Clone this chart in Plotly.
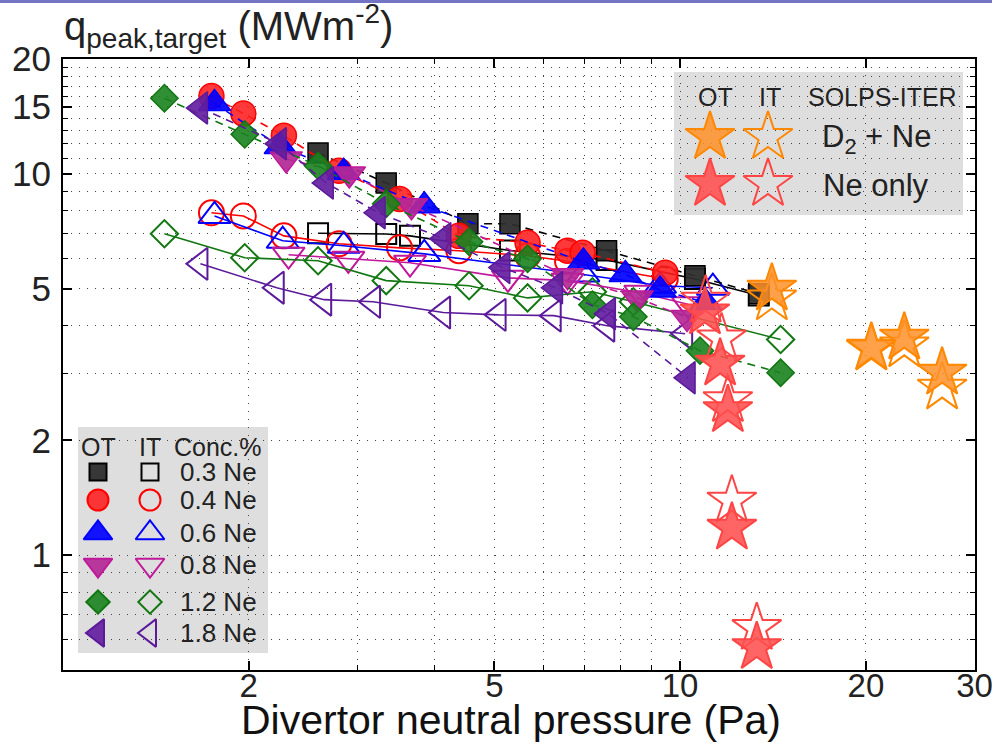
import math
import plotly.graph_objects as go

# Peak target heat flux vs divertor neutral pressure.
# OT = outer target (filled markers, dashed lines)
# IT = inner target (open markers, solid lines)

conc_labels = ["0.3 Ne", "0.4 Ne", "0.6 Ne", "0.8 Ne", "1.2 Ne", "1.8 Ne"]

p_ot_03 = [2.59, 3.34, 4.53, 5.30, 7.60, 10.57, 13.41]
q_ot_03 = [11.35, 9.47, 7.40, 7.40, 6.29, 5.41, 4.85]
p_it_03 = [2.59, 3.34, 3.65, 5.30, 7.60, 10.57, 13.41]
q_it_03 = [6.99, 6.96, 6.88, 6.30, 5.95, 5.30, 4.80]

p_ot_04 = [1.74, 1.96, 2.28, 2.80, 3.51, 4.38, 5.66, 6.57, 6.95, 9.46]
q_ot_04 = [16.0, 14.4, 12.6, 10.2, 8.60, 6.88, 6.60, 6.29, 6.21, 5.51]
p_it_04 = [1.74, 1.96, 2.28, 2.80, 3.51, 4.38, 5.66, 6.57, 9.46]
q_it_04 = [7.91, 7.76, 6.88, 6.56, 6.40, 6.29, 6.10, 5.90, 5.30]

p_ot_06 = [1.76, 2.25, 2.85, 3.85, 6.97, 8.15, 9.28, 11.0]
q_ot_06 = [15.3, 11.8, 10.1, 8.25, 5.88, 5.45, 4.96, 4.60]
p_it_06 = [1.76, 2.27, 2.85, 3.85, 6.97, 9.28, 11.3]
q_it_06 = [7.76, 6.68, 6.48, 6.17, 5.45, 5.09, 5.03]

p_ot_08 = [2.30, 2.91, 3.67, 6.57, 8.52, 10.26]
q_ot_08 = [10.95, 10.0, 8.25, 5.41, 4.73, 4.20]
p_it_08 = [2.32, 2.90, 3.65, 5.26, 6.57, 8.62, 10.3]
q_it_08 = [6.14, 5.99, 5.85, 5.34, 5.25, 4.88, 4.55]

p_ot_12 = [1.46, 1.97, 2.59, 3.34, 4.55, 5.66, 7.21, 8.40, 10.77, 14.55]
q_ot_12 = [15.8, 12.7, 10.5, 8.35, 6.64, 5.99, 4.54, 4.22, 3.44, 3.01]
p_it_12 = [1.46, 1.97, 2.59, 3.34, 4.55, 5.66, 7.21, 8.40, 14.55]
q_it_12 = [6.97, 6.03, 5.92, 5.25, 5.09, 4.73, 4.91, 4.62, 3.68]

p_ot_18 = [1.67, 2.24, 2.67, 3.24, 4.14, 5.16, 6.28, 7.65, 10.3]
q_ot_18 = [14.9, 12.0, 9.47, 7.91, 6.76, 5.68, 5.03, 4.30, 2.92]
p_it_18 = [1.67, 2.22, 2.65, 3.18, 4.13, 5.08, 6.24, 7.62, 10.19]
q_it_18 = [5.81, 5.03, 4.68, 4.62, 4.33, 4.27, 4.25, 4.00, 3.81]

# SOLPS-ITER cases
p_d2ne_ot = [14.08, 20.41, 23.08, 26.58]
q_d2ne_ot = [5.00, 3.50, 3.72, 3.01]
p_d2ne_it = [14.08, 20.41, 23.08, 26.58]
q_d2ne_it = [4.71, 3.48, 3.55, 2.75]
p_neonly_ot = [10.97, 11.61, 11.95, 12.13, 13.31]
q_neonly_ot = [4.33, 3.18, 2.40, 1.18, 0.574]
p_neonly_it = [11.00, 11.67, 11.95, 12.13, 13.31]
q_neonly_it = [4.65, 3.70, 2.55, 1.39, 0.644]

x_major = [2, 5, 10, 20, 30]
x_minor = [3, 4, 6, 7, 8, 9]
y_major = [1, 2, 5, 10, 15, 20]
y_minor = [0.6, 0.7, 0.8, 0.9, 3, 4, 6, 7, 8, 9, 11, 12, 13, 14, 16, 17, 18, 19]

ot_sets = [(p_ot_03, q_ot_03), (p_ot_04, q_ot_04), (p_ot_06, q_ot_06),
           (p_ot_08, q_ot_08), (p_ot_12, q_ot_12), (p_ot_18, q_ot_18)]
it_sets = [(p_it_03, q_it_03), (p_it_04, q_it_04), (p_it_06, q_it_06),
           (p_it_08, q_it_08), (p_it_12, q_it_12), (p_it_18, q_it_18)]

styles = [
    dict(symbol="square", size=20, lsize=17, edge="#000000", fill="rgba(45,45,45,0.95)"),
    dict(symbol="circle", size=25, lsize=21, edge="#ff0000", fill="rgba(255,30,30,0.88)"),
    dict(symbol="triangle-up", size=28, lsize=25, edge="#0000ff", fill="rgba(0,0,255,0.92)"),
    dict(symbol="triangle-down", size=28, lsize=25, edge="#c0189a", fill="rgba(180,40,150,0.92)"),
    dict(symbol="diamond", size=21, lsize=18, edge="#117711", fill="rgba(25,130,30,0.9)"),
    dict(symbol="triangle-left", size=28, lsize=24, edge="#5b1a9a", fill="rgba(100,30,160,0.92)"),
]
star_orange = dict(edge="#ff8800", fill="rgba(255,145,40,0.85)")
star_red = dict(edge="#ff4444", fill="rgba(255,80,80,0.88)")
STAR = 37

FONT = "Liberation Sans, Arial, Helvetica, sans-serif"
TXT = "#222222"

fig = go.Figure()

# inner target: open markers, solid lines
for (p, q), st, lab in zip(it_sets, styles, conc_labels):
    fig.add_trace(go.Scatter(
        x=p, y=q, mode="lines+markers", name="IT " + lab,
        line=dict(color=st["edge"], width=1.6),
        marker=dict(symbol=st["symbol"] + "-open", size=st["size"],
                    color=st["edge"], line=dict(color=st["edge"], width=2)),
    ))

# outer target: filled markers, dashed lines
for (p, q), st, lab in zip(ot_sets, styles, conc_labels):
    fig.add_trace(go.Scatter(
        x=p, y=q, mode="lines+markers", name="OT " + lab,
        line=dict(color=st["edge"], width=1.6, dash="8px,6px"),
        marker=dict(symbol=st["symbol"], size=st["size"], color=st["fill"],
                    line=dict(color=st["edge"], width=1.5)),
    ))

# SOLPS-ITER stars
for p, q, sty, filled, nm in [
    (p_d2ne_it, q_d2ne_it, star_orange, False, "D2+Ne IT"),
    (p_d2ne_ot, q_d2ne_ot, star_orange, True, "D2+Ne OT"),
    (p_neonly_it, q_neonly_it, star_red, False, "Ne only IT"),
    (p_neonly_ot, q_neonly_ot, star_red, True, "Ne only OT"),
]:
    fig.add_trace(go.Scatter(
        x=p, y=q, mode="markers", name=nm,
        marker=dict(symbol="star" if filled else "star-open", size=STAR,
                    color=sty["fill"] if filled else sty["edge"],
                    line=dict(color=sty["edge"], width=2)),
    ))

# ---- layout helpers: canvas pixel -> plot-area fraction
W_FIG, H_FIG = 992, 743
X0, PW = 63, 912
Y0, PH = 59, 611


def fx(px):
    return (px - X0) / PW


def fy(py):
    return (Y0 + PH - py) / PH


# ---- key boxes (overlay axis in plot-area fractions)
def key_marker(x, y, symbol, size, color, edge):
    fig.add_trace(go.Scatter(
        x=[x], y=[y], xaxis="x2", yaxis="y2", mode="markers", showlegend=False,
        hoverinfo="skip",
        marker=dict(symbol=symbol, size=size, color=color, line=dict(color=edge, width=2)),
    ))


shapes = [
    dict(type="rect", xref="x domain", yref="y domain", layer="below",
         x0=fx(78), x1=fx(268), y0=fy(653), y1=fy(427),
         fillcolor="#dedede", line=dict(width=0)),
    dict(type="rect", xref="x domain", yref="y domain", layer="below",
         x0=fx(674), x1=fx(963), y0=fy(215), y1=fy(72),
         fillcolor="#dedede", line=dict(width=0)),
    dict(type="rect", xref="paper", yref="paper",
         x0=fx(0), x1=fx(W_FIG), y0=fy(3), y1=fy(0),
         fillcolor="#7474c4", line=dict(width=0)),
]

annotations = []


def text(x, y, s, size, anchor="center"):
    annotations.append(dict(x=x, y=y, xref="paper", yref="paper", text=s, showarrow=False,
                            xanchor=anchor, yanchor="middle",
                            font=dict(family=FONT, size=size, color=TXT)))


row_y = [472, 500, 533, 565, 602, 633]
text(fx(98), fy(447), "OT", 25)
text(fx(150), fy(447), "IT", 25)
text(fx(218), fy(447), "Conc.%", 25)
for st, lab, ry in zip(styles, conc_labels, row_y):
    key_marker(fx(98), fy(ry), st["symbol"], st["lsize"], st["fill"], st["edge"])
    key_marker(fx(150), fy(ry), st["symbol"] + "-open", st["lsize"], st["edge"], st["edge"])
    text(fx(218), fy(ry), lab, 26)

text(fx(715), fy(97), "OT", 25)
text(fx(770), fy(97), "IT", 25)
text(fx(882), fy(97), "SOLPS-ITER", 25)
for sty, ry, lab in [(star_orange, 137, "D<sub>2</sub> + Ne"), (star_red, 184, "Ne only")]:
    key_marker(fx(710), fy(ry), "star", STAR, sty["fill"], sty["edge"])
    key_marker(fx(768), fy(ry), "star-open", STAR, sty["edge"], sty["edge"])
    text(fx(876), fy(ry + 2), lab, 31)

# axis titles
annotations.append(dict(x=fx(62), y=fy(26), xref="paper", yref="paper", showarrow=False,
                        xanchor="left", yanchor="middle",
                        text="q<sub>peak,target</sub> (MWm<sup>-2</sup>)",
                        font=dict(family=FONT, size=40, color=TXT)))
annotations.append(dict(x=fx(511), y=fy(720), xref="paper", yref="paper", showarrow=False,
                        xanchor="center", yanchor="middle",
                        text="Divertor neutral pressure (Pa)",
                        font=dict(family=FONT, size=41, color="#111111")))

grid_style = dict(showgrid=True, gridcolor="#444444", gridwidth=1, griddash="1px,7px")

fig.update_layout(
    width=W_FIG, height=H_FIG,
    margin=dict(l=X0, r=W_FIG - X0 - PW, t=Y0, b=H_FIG - Y0 - PH, autoexpand=False),
    paper_bgcolor="white", plot_bgcolor="white",
    showlegend=False,
    font=dict(family=FONT, color=TXT),
    shapes=shapes, annotations=annotations,
    xaxis=dict(
        type="log", range=[0, math.log10(30.05)], automargin=False,
        tickmode="array", tickvals=x_major, ticktext=[str(v) for v in x_major],
        ticks="inside", ticklen=9, tickwidth=1.5, tickcolor="black",
        showline=True, linecolor="black", linewidth=2, mirror="ticks",
        zeroline=False, tickfont=dict(family=FONT, size=33, color=TXT),
        ticklabelstandoff=-15, ticklabeloverflow="allow",
        minor=dict(tickmode="array", tickvals=x_minor, ticks="inside", ticklen=5,
                   tickcolor="black", tickwidth=1.2, **grid_style),
        **grid_style,
    ),
    yaxis=dict(
        type="log", range=[math.log10(0.5), math.log10(20.02)], automargin=False,
        tickmode="array", tickvals=y_major, ticktext=[str(v) for v in y_major],
        ticks="inside", ticklen=9, tickwidth=1.5, tickcolor="black",
        showline=True, linecolor="black", linewidth=2, mirror="ticks",
        zeroline=False, tickfont=dict(family=FONT, size=35, color=TXT),
        ticklabelstandoff=3, ticklabeloverflow="allow",
        minor=dict(tickmode="array", tickvals=y_minor, ticks="inside", ticklen=5,
                   tickcolor="black", tickwidth=1.2, **grid_style),
        **grid_style,
    ),
    xaxis2=dict(overlaying="x", anchor="y2", range=[0, 1], visible=False, fixedrange=True),
    yaxis2=dict(overlaying="y", anchor="x2", range=[0, 1], visible=False, fixedrange=True),
)

fig.write_html("out.html")
